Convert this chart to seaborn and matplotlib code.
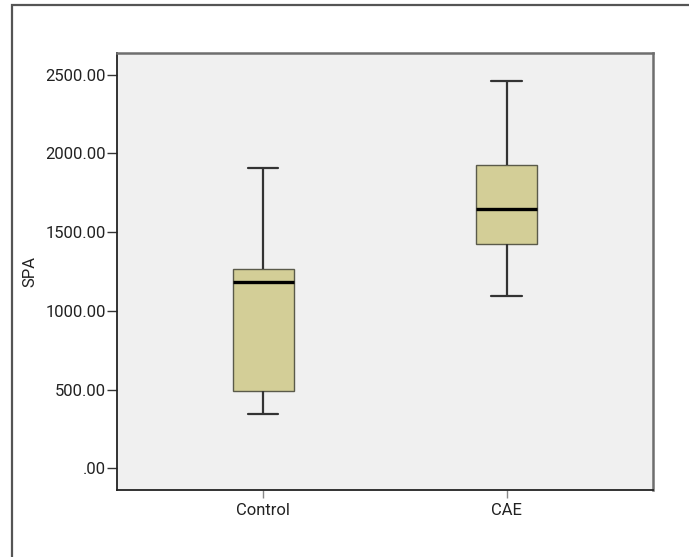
import numpy as np
import pandas as pd
import matplotlib
matplotlib.use("Agg")
import matplotlib.pyplot as plt
import seaborn as sns
from matplotlib.patches import Rectangle
from matplotlib.ticker import FuncFormatter

# Values (min, Q1, median, Q3, max)
groups = ["Control", "CAE"]
control_vals = [343, 493, 1181, 1265, 1909]
cae_vals = [1094, 1422, 1648, 1928, 2459]
y_ticks = [0, 500, 1000, 1500, 2000, 2500]

df = pd.DataFrame({
    "group": [groups[0]] * len(control_vals) + [groups[1]] * len(cae_vals),
    "SPA": control_vals + cae_vals,
})

sns.set_style("white")
plt.rcParams["font.family"] = ["Liberation Sans Narrow", "Roboto", "DejaVu Sans"]

fig = plt.figure(figsize=(6.89, 5.57), dpi=100)
W, H = 689, 557
ax = fig.add_axes([117 / W, 1 - 490.3 / H, (652.7 - 117) / W, (490.3 - 52.7) / H])
ax.set_facecolor("#F0F0F0")

box_col = "#D3CE97"
sns.boxplot(
    data=df, x="group", y="SPA", order=groups, ax=ax,
    width=0.25, color=box_col, saturation=1, whis=1.5,
    boxprops=dict(edgecolor="#5a5a4a", linewidth=1.0),
    whiskerprops=dict(color="#333333", linewidth=1.6),
    capprops=dict(color="#333333", linewidth=1.6),
    medianprops=dict(color="#000000", linewidth=2.4),
    showfliers=False,
)

ax.set_xlim(-0.6, 1.6)
ax.set_ylim(-140, 2639)
ax.set_yticks(y_ticks)
ax.yaxis.set_major_formatter(FuncFormatter(lambda v, p: ".00" if v == 0 else f"{v:.2f}"))
ax.set_xlabel("")
ax.set_ylabel("SPA", fontsize=12, color="#222222", labelpad=6)

ax.tick_params(axis="y", length=7, width=1, color="#333333", labelsize=12, labelcolor="#222222", pad=1, left=True)
ax.tick_params(axis="x", length=6, width=1, color="#888888", labelsize=12, labelcolor="#222222", pad=3, bottom=True)

for s in ["left", "bottom"]:
    ax.spines[s].set_color("#222222")
    ax.spines[s].set_linewidth(1.3)
for s in ["top", "right"]:
    ax.spines[s].set_color("#6e6e6e")
    ax.spines[s].set_linewidth(1.8)

# outer figure frame (left and top edges visible)
fig.patches.append(Rectangle((12 / W, -0.1), 1.2, 1 - 5 / H + 0.1, transform=fig.transFigure,
                             fill=False, edgecolor="#555555", linewidth=1.6))

fig.savefig("out.png", dpi=100)
